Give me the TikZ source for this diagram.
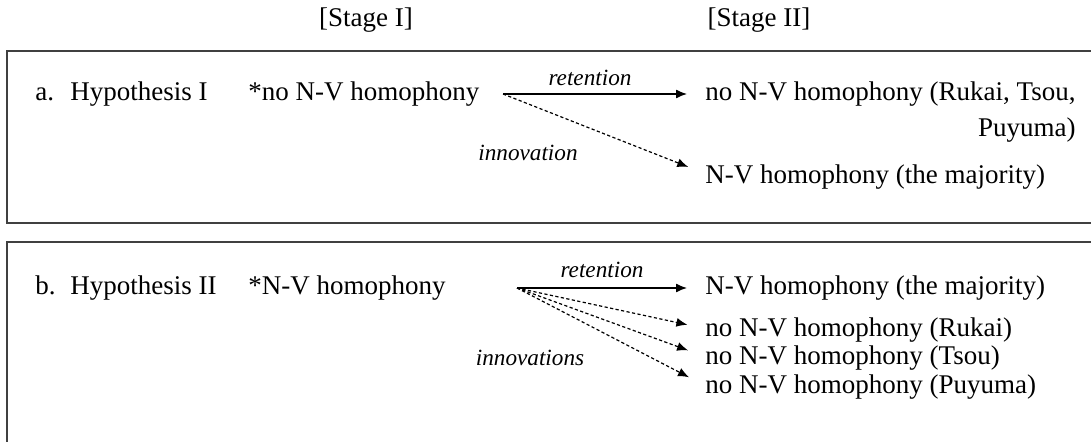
\documentclass[tikz,border=0pt]{standalone}
\usepackage{fontspec}
\setmainfont{Liberation Serif}
\usetikzlibrary{arrows.meta,positioning}
\tikzset{
  txt/.style={
    inner sep = 0pt,
    anchor = base west,
    font = \fontsize{13.5}{16}\selectfont
  },
  lbl/.style={
    inner sep = 0pt,
    font = \fontsize{11.6}{14}\selectfont\itshape
  },
  frame/.style={
    draw = black!75,
    line width = 0.6pt
  },
  keep/.style={
    -{Latex[length=5.5pt,width=4.5pt]},
    line width = 0.65pt,
    shorten > = 9pt
  },
  change/.style={
    -{Latex[length=5.5pt,width=4.5pt]},
    line width = 0.6pt,
    dash pattern = on 1.6pt off 1.2pt,
    shorten > = 9pt
  }
}

\begin{document}
\begin{tikzpicture}[x=0.5pt, y=-0.5pt]
        \clip (0,0) rectangle (1091,442);
        \fill[white] (0,0) rectangle (1091,442);

        % stage headings
        \node[txt, anchor=center] (st1) at (366,20) {[Stage I]};
        \node[txt, anchor=center] (st2) at (759,20) {[Stage II]};

        % frames, open to the right (and below)
        \draw[frame] (1100,51) -- (7,51) -- (7,223) -- (1100,223);
        \draw[frame] (1100,242) -- (7,242) -- (7,460);

        % hypothesis I
        \node[txt] (a)   at (35,101)  {a.};
        \node[txt] (ha)  at (70,101)  {Hypothesis I};
        \node[txt] (sa)  at (248,101) {*no N-V homophony};
        \coordinate (oa) at (503,94);
        \node[txt] (ra1) at (705,101) {no N-V homophony (Rukai, Tsou,};
        \node[txt, anchor=base east] (ra2) at (ra1.base east |- 0,137) {Puyuma)};
        \node[txt] (ra3) at (705,184) {N-V homophony (the majority)};

        \draw[keep] (oa) -- (ra1.west |- oa);
        \draw[change] (oa) -- ([yshift=2pt]ra3.west);
        \node[lbl] (reta) at (590,78)  {retention};
        \node[lbl] (inna) at (528,153) {innovation};

        % hypothesis II
        \node[txt] (b)   at (35,295)  {b.};
        \node[txt] (hb)  at (70,295)  {Hypothesis II};
        \node[txt] (sb)  at (248,295) {*N-V homophony};
        \coordinate (ob) at (517,288);
        \node[txt] (rb1) at (705,295) {N-V homophony (the majority)};
        \node[txt] (rb2) at (705,337) {no N-V homophony (Rukai)};
        \node[txt] (rb3) at (705,365) {no N-V homophony (Tsou)};
        \node[txt] (rb4) at (705,394) {no N-V homophony (Puyuma)};

        \draw[keep] (ob) -- (rb1.west |- ob);
        \foreach \n in {rb2,rb3,rb4}
          \draw[change] (ob) -- ([yshift=1pt]\n.west);
        \node[lbl] (retb) at (602,270) {retention};
        \node[lbl] (innb) at (530,358) {innovations};
\end{tikzpicture}
\end{document}
